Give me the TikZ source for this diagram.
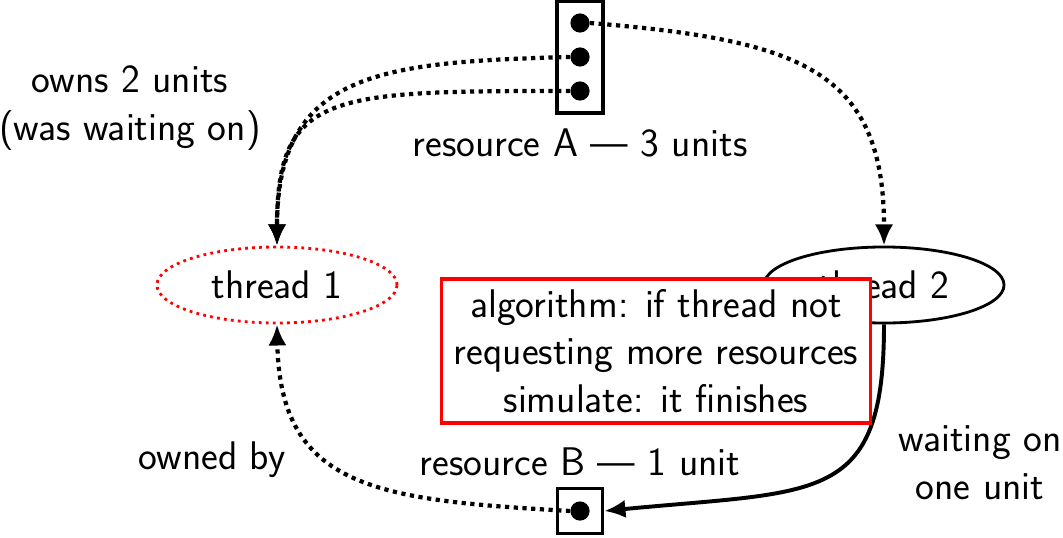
\documentclass[tikz,border=0pt]{standalone}
\usetikzlibrary{arrows.meta,shapes.geometric}
\begin{document}
\begin{tikzpicture}[x=0.025cm,y=-0.025cm,
  font=\sffamily\fontsize{28.4}{34}\selectfont,
  dotline/.style={line width=3pt, dash pattern=on 3pt off 3.2pt},
  arr/.style={-{Latex[length=15pt,width=13pt]}},
  resbox/.style={draw, line width=2.6pt, inner sep=0pt, rectangle},
  unitdot/.style={circle, fill, inner sep=0pt, minimum size=0.48cm},
  thr/.style={ellipse, inner sep=0pt, minimum width=6cm, minimum height=1.9cm, line width=2pt},
  lbl/.style={inner sep=0pt, align=center}
]
\useasboundingbox (0,0) rectangle (1063,538);

% resource A
\node[resbox, minimum width=1.15cm, minimum height=2.8cm] (ra) at (580,57) {};
\node[unitdot] (a1) at (580,23) {};
\node[unitdot] (a2) at (580,57) {};
\node[unitdot] (a3) at (580,91) {};
\node[lbl] (ralbl) at (580,143) {resource A \textemdash{} 3 units};

% resource B
\node[resbox, minimum size=1.125cm] (rb) at (580,511) {};
\node[unitdot] (b1) at (580,511) {};
\node[lbl] (rblbl) at (580,462) {resource B \textemdash{} 1 unit};

% threads
\node[thr, draw=red, dash pattern=on 2pt off 3pt] (t1) at (277,285) {thread 1};
\node[thr, draw] (t2) at (884,285) {thread 2};

% labels
\node[lbl] (owns) at (130,108) {owns 2 units\\(was waiting on)};
\node[lbl] (ownedby) at (212,460) {owned by};
\node[lbl] (waiting) at (980,463) {waiting on\\one unit};

% connectors
\draw[dotline, arr] (a2.west) .. controls (380,62) and (277,72) .. (t1.north);
\draw[dotline, arr] (a3.west) .. controls (330,91) and (277,92) .. (t1.north);
\draw[dotline, arr] (a1.east) .. controls (800,40) and (884,70) .. (t2.north);
\draw[dotline, arr] (b1.west) .. controls (380,500) and (280,490) .. (t1.south);
\draw[line width=2.8pt, arr] (t2.south) .. controls (884,505) and (820,490) .. (rb.east);

% algorithm box
\node[draw=red, fill=white, line width=2.2pt, minimum width=10.7cm, minimum height=3.6cm, align=center, inner sep=0pt] (alg) at (656,351)
  {algorithm: if thread not\\requesting more resources\\simulate: it finishes};
\end{tikzpicture}
\end{document}
